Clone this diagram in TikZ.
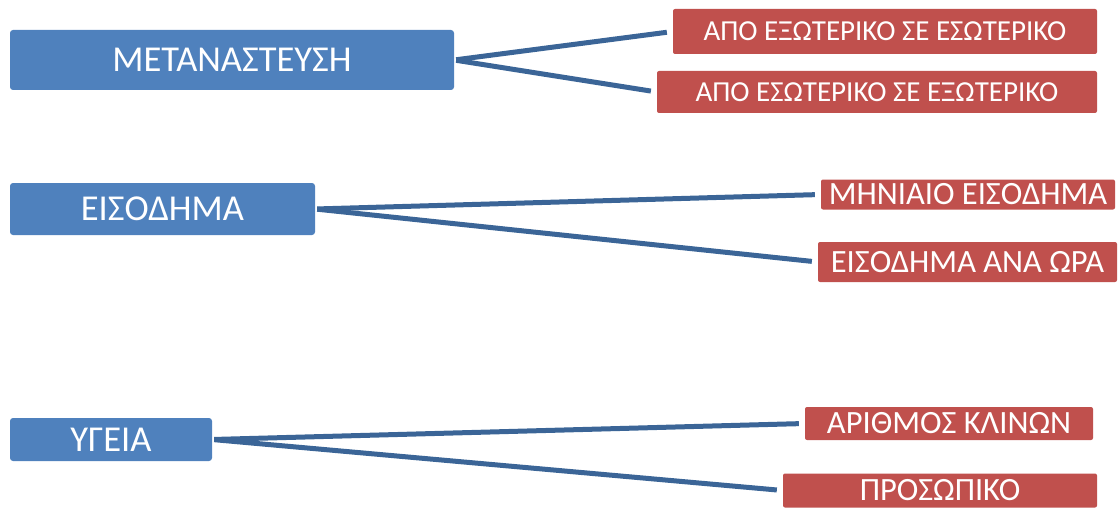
\documentclass[tikz,border=0pt]{standalone}
\usepackage{fontspec}
\setmainfont{Carlito}

\definecolor{topicblue}{HTML}{4F81BD}
\definecolor{itemred}{HTML}{C0504D}
\definecolor{linkblue}{HTML}{3B6597}

\begin{document}
\begin{tikzpicture}[%
        x = 1pt, y = -1pt,
        topic/.style = {%
            fill = topicblue,
            rounded corners = 3pt,
            text = white,
            inner sep = 0pt,
            font = \fontsize{36.5}{40}\selectfont
        },
        item/.style = {%
            fill = itemred,
            rounded corners = 2pt,
            text = white,
            inner sep = 0pt,
            font = \fontsize{32.5}{36}\selectfont
        },
        link/.style = {%
            draw = linkblue,
            line width = 5pt,
            shorten < = 2pt,
            shorten > = 6pt
        }
    ]

        % Fix the size of the picture (one unit is one pixel).
        \useasboundingbox (0,0) rectangle (1118,508);

        % The three topics on the left.
        \node[topic, minimum width = 444pt, minimum height = 60pt] (meta) at (232,60) {ΜΕΤΑΝΑΣΤΕΥΣΗ};
        \node[topic, minimum width = 305pt, minimum height = 52pt] (eisod) at (162.5,209) {ΕΙΣΟΔΗΜΑ};
        \node[topic, minimum width = 202pt, minimum height = 43pt] (ygeia) at (111,439.5) {ΥΓΕΙΑ};

        % The items on the right, two for each topic.
        \node[item, font = \fontsize{29}{34}\selectfont, minimum width = 424pt, minimum height = 45pt] (exeso) at (885,31.5) {ΑΠΟ ΕΞΩΤΕΡΙΚΟ ΣΕ ΕΣΩΤΕΡΙΚΟ};
        \node[item, font = \fontsize{29}{34}\selectfont, minimum width = 440pt, minimum height = 42pt] (esexo) at (877,92) {ΑΠΟ ΕΣΩΤΕΡΙΚΟ ΣΕ ΕΞΩΤΕΡΙΚΟ};
        \node[item, minimum width = 294pt, minimum height = 30pt] (mhnia) at (968,194.5) {ΜΗΝΙΑΙΟ ΕΙΣΟΔΗΜΑ};
        \node[item, minimum width = 299pt, minimum height = 40pt] (anaora) at (967.5,262) {ΕΙΣΟΔΗΜΑ ΑΝΑ ΩΡΑ};
        \node[item, minimum width = 288pt, minimum height = 33pt] (klines) at (949,423.5) {ΑΡΙΘΜΟΣ ΚΛΙΝΩΝ};
        \node[item, minimum width = 314pt, minimum height = 34pt] (prosop) at (940,490.5) {ΠΡΟΣΩΠΙΚΟ};

        % Connectors from each topic to its items.
        \draw[link] (meta.east) to (exeso.west);
        \draw[link] (meta.east) to (esexo.west);
        \draw[link] (eisod.east) to (mhnia.west);
        \draw[link] (eisod.east) to (anaora.west);
        \draw[link] (ygeia.east) to (klines.west);
        \draw[link] (ygeia.east) to (prosop.west);
    \end{tikzpicture}
\end{document}
